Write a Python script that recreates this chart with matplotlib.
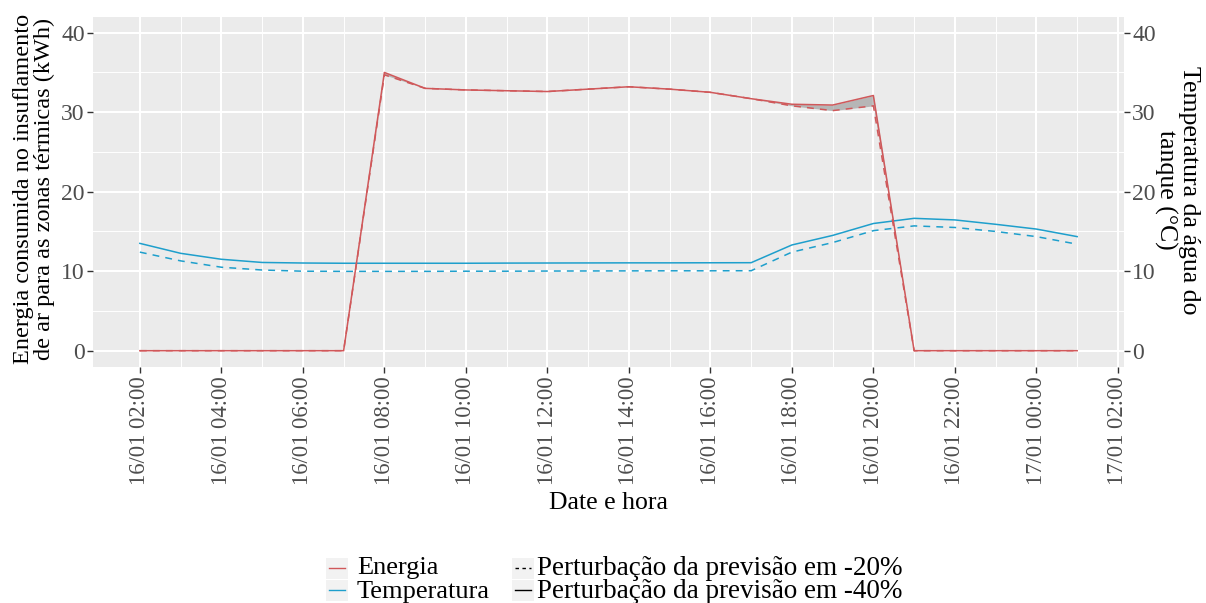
import matplotlib
matplotlib.use("Agg")
import matplotlib.pyplot as plt
import matplotlib.dates as mdates
from matplotlib.lines import Line2D
from matplotlib.patches import Rectangle
import pandas as pd

plt.rcParams["font.family"] = ["Liberation Serif", "DejaVu Serif"]

# Hourly series, 16/01 02:00 -> 17/01 01:00
times = pd.date_range("2021-01-16 02:00", periods=24, freq="h")

energia_40 = [0, 0, 0, 0, 0, 0, 35.0, 33.0, 32.8, 32.7, 32.6, 32.9,
              33.2, 32.9, 32.5, 31.7, 31.0, 30.9, 32.1, 0, 0, 0, 0, 0]
energia_20 = [0, 0, 0, 0, 0, 0, 34.7, 33.0, 32.8, 32.7, 32.6, 32.9,
              33.2, 32.9, 32.5, 31.7, 30.8, 30.2, 30.8, 0, 0, 0, 0, 0]
temperatura_40 = [13.5, 12.25, 11.5, 11.1, 11.03, 11.0, 11.0, 11.0, 11.0, 11.02,
                  11.03, 11.04, 11.05, 11.05, 11.06, 11.07, 13.3, 14.5, 16.0,
                  16.65, 16.45, 15.9, 15.3, 14.35]
temperatura_20 = [12.4, 11.3, 10.5, 10.15, 10.0, 9.98, 9.98, 9.98, 10.0, 10.0,
                  10.02, 10.03, 10.04, 10.05, 10.05, 10.06, 12.4, 13.6, 15.1,
                  15.7, 15.5, 15.0, 14.35, 13.4]

tick_times = pd.date_range("2021-01-16 02:00", "2021-01-17 02:00", freq="2h")
minor_times = pd.date_range("2021-01-16 03:00", "2021-01-17 01:00", freq="2h")
y_ticks = [0, 10, 20, 30, 40]
y_minor = [5, 15, 25, 35]

series_labels = ["Energia", "Temperatura"]
scenario_labels = ["Perturbação da previsão em -20%", "Perturbação da previsão em -40%"]

c_energia = "#D0585A"
c_temp = "#1E9FCC"
panel_bg = "#EBEBEB"
tick_col = "#4D4D4D"

W, H = 1206, 603
fig = plt.figure(figsize=(W / 100, H / 100), dpi=100)
left, right, top, bottom = 93, 1124, 16.8, 366.6
ax = fig.add_axes([left / W, 1 - bottom / H, (right - left) / W, (bottom - top) / H])
ax.set_facecolor(panel_bg)
for s in ax.spines.values():
    s.set_visible(False)

# x range with 5 % padding on each side
span = times[-1] - times[0]
ax.set_xlim(times[0] - span * 0.05, times[-1] + span * 0.05)
ax.set_ylim(-2, 42)

ax.set_xticks(tick_times)
ax.set_xticks(minor_times, minor=True)
ax.xaxis.set_major_formatter(mdates.DateFormatter("%d/%m %H:%M"))
ax.set_yticks(y_ticks)
ax.set_yticks(y_minor, minor=True)

ax.grid(which="major", color="white", lw=1.5)
ax.grid(which="minor", color="white", lw=0.7)
ax.set_axisbelow(True)

ax.tick_params(axis="both", which="major", length=4, width=1, color="#333333",
               labelcolor=tick_col, labelsize=16.3)
ax.tick_params(axis="y", labelsize=17)
ax.tick_params(axis="both", which="minor", length=0)
ax.tick_params(axis="x", labelrotation=90, pad=3)
ax.tick_params(axis="y", pad=2)

sec = ax.secondary_yaxis("right")
sec.set_yticks(y_ticks)
sec.tick_params(length=4, width=1, color="#333333", labelcolor=tick_col,
                labelsize=17, pad=2)
for s in sec.spines.values():
    s.set_visible(False)

lw = 1.1
dash = (0, (4.5, 4))
ax.plot(times, temperatura_20, color=c_temp, lw=lw, linestyle=dash)
ax.plot(times, temperatura_40, color=c_temp, lw=lw)
ax.plot(times, energia_20, color=c_energia, lw=lw, linestyle=dash)
ax.plot(times, energia_40, color=c_energia, lw=lw)
ax.fill_between(times, energia_20, energia_40, color="#8C8C8C", alpha=0.55, lw=0)

fig.text(608.5 / W, 1 - 503 / H, "Date e hora", ha="center", va="center",
         fontsize=18.5, color="black")
fig.text(34 / W, 1 - 189 / H,
         "Energia consumida no insuflamento\nde ar para as zonas térmicas (kWh)",
         rotation=90, ha="center", va="center", fontsize=17.5,
         multialignment="center", linespacing=1.05, color="black")
fig.text(1177 / W, 1 - 190 / H, "Temperatura da água do\ntanque (°C)",
         rotation=270, ha="center", va="center", fontsize=18.5,
         multialignment="center", linespacing=1.0, color="black")


# Legend drawn in figure pixel coordinates
def px(x, y):
    return x / W, 1 - y / H


row_y = [568, 590]


def legend_column(x0, colors, styles, labels, text_dx, fs, ls):
    for yc, col, style in zip(row_y, colors, styles):
        kx, ky = px(x0, yc + 10.5)
        fig.patches.append(Rectangle((kx, ky), 22 / W, 21 / H,
                                     transform=fig.transFigure,
                                     facecolor="#F2F2F2", edgecolor="none"))
        (a0, b0), (a1, _) = px(x0 + 3, yc), px(x0 + 19, yc)
        fig.add_artist(Line2D([a0, a1], [b0, b0], transform=fig.transFigure,
                              color=col, lw=1.0, linestyle=style))
    tx, ty = px(x0 + text_dx, (row_y[0] + row_y[1]) / 2 + 1)
    fig.text(tx, ty, "\n".join(labels), ha="left", va="center", fontsize=fs,
             linespacing=ls, color="black")


legend_column(326, [c_energia, c_temp], ["-", "-"], series_labels, 31, 19, 1.06)
legend_column(512, ["black", "black"], [(0, (2.5, 2.5)), "-"], scenario_labels,
              25, 19.5, 0.94)

fig.savefig("out.png", dpi=100)
